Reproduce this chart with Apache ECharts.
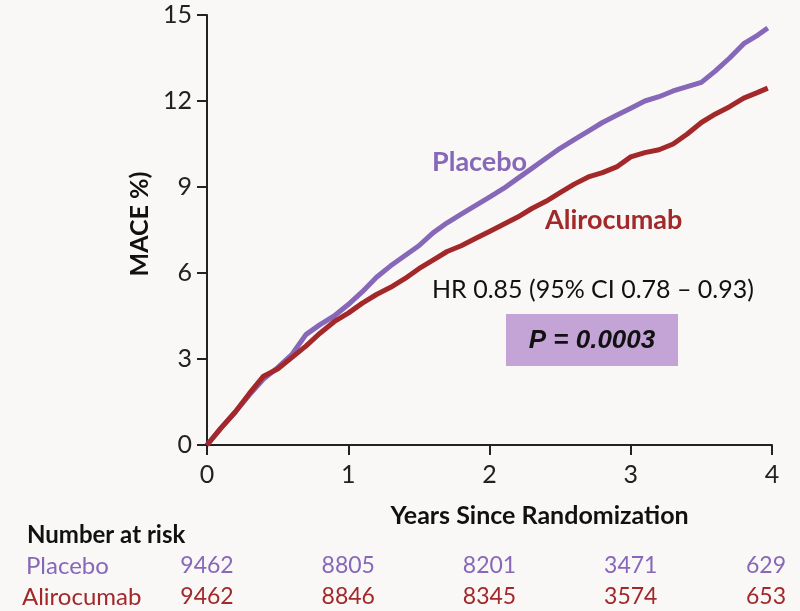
<!DOCTYPE html>
<html>
<head>
<meta charset="utf-8">
<script src="https://cdn.jsdelivr.net/npm/echarts@6/dist/echarts.min.js"></script>
<style>
html,body{margin:0;padding:0;background:#f9f8f7;}
#chart{width:800px;height:611px;}
</style>
</head>
<body>
<div id="chart"></div>
<script>
// Data
const years = [0,0.1,0.2,0.3,0.4,0.5,0.6,0.7,0.8,0.9,1.0,1.1,1.2,1.3,1.4,1.5,1.6,1.7,1.8,1.9,2.0,2.1,2.2,2.3,2.4,2.5,2.6,2.7,2.8,2.9,3.0,3.1,3.2,3.3,3.4,3.5,3.6,3.7,3.8,3.9,3.97];
const placebo = [0,0.6,1.15,1.75,2.3,2.7,3.15,3.85,4.2,4.5,4.9,5.35,5.85,6.25,6.6,6.95,7.4,7.75,8.05,8.35,8.65,8.95,9.3,9.65,10.0,10.35,10.65,10.95,11.25,11.5,11.75,12.0,12.15,12.35,12.5,12.65,13.05,13.5,14.0,14.3,14.55];
const alirocumab = [0,0.6,1.15,1.8,2.4,2.65,3.05,3.45,3.9,4.3,4.6,4.95,5.25,5.5,5.8,6.15,6.45,6.75,6.95,7.2,7.45,7.7,7.95,8.25,8.5,8.8,9.1,9.35,9.5,9.7,10.05,10.2,10.3,10.5,10.85,11.25,11.55,11.8,12.1,12.3,12.45];
const riskYears = [0,1,2,3,4];
const riskPlacebo = ['9462','8805','8201','3471','629'];
const riskAlirocumab = ['9462','8846','8345','3574','653'];
const yTicks = [0,3,6,9,12,15];

const PURPLE = '#8767b8';
const RED = '#a3282a';
const FONT = 'Lato, "Open Sans", sans-serif';

const chart = echarts.init(document.getElementById('chart'));
const pair = (xs, ys) => xs.map((x,i)=>[x, ys[i]]);

chart.setOption({
  backgroundColor: '#f9f8f7',
  animation: false,
  grid: {left: 207, right: 28, top: 15, bottom: 166, containLabel: false},
  xAxis: {
    type: 'value', min: 0, max: 4, interval: 1,
    name: 'Years Since Randomization', nameLocation: 'middle', nameGap: 58,
    nameTextStyle: {fontFamily: FONT, fontSize: 25, fontWeight: 'bold', color: '#111', padding: [0,0,0,100]},
    axisLine: {show: true, lineStyle: {color: '#222', width: 2}},
    axisTick: {show: true, length: 10, lineStyle: {color: '#222', width: 2}},
    axisLabel: {fontFamily: FONT, fontSize: 25, color: '#222', margin: 17},
    splitLine: {show: false}
  },
  yAxis: {
    type: 'value', min: 0, max: 15, interval: 3,
    name: 'MACE %)', nameLocation: 'middle', nameGap: 48, nameRotate: 90,
    nameTextStyle: {fontFamily: FONT, fontSize: 25, fontWeight: 'bold', color: '#111', padding: [0,0,0,12]},
    axisLine: {show: true, lineStyle: {color: '#222', width: 2}},
    axisTick: {show: true, length: 10, lineStyle: {color: '#222', width: 2}},
    axisLabel: {fontFamily: FONT, fontSize: 25, color: '#222', margin: 15,
      formatter: v => yTicks.includes(v) ? String(v) : ''},
    splitLine: {show: false}
  },
  series: [
    {name: 'Placebo', type: 'line', data: pair(years, placebo), showSymbol: false,
     lineStyle: {color: PURPLE, width: 5}, z: 2},
    {name: 'Alirocumab', type: 'line', data: pair(years, alirocumab), showSymbol: false,
     lineStyle: {color: RED, width: 5}, z: 3}
  ]
});

const gx = t => chart.convertToPixel({xAxisIndex: 0}, t);
const mid = {textVerticalAlign: 'middle'};
const graphics = [
  {type: 'text', x: 432, y: 162, style: Object.assign({text: 'Placebo', fill: PURPLE, font: 'bold 27px ' + FONT}, mid)},
  {type: 'text', x: 545, y: 220, style: Object.assign({text: 'Alirocumab', fill: RED, font: 'bold 27px ' + FONT}, mid)},
  {type: 'text', x: 432, y: 290, style: Object.assign({text: 'HR 0.85 (95% CI 0.78 \u2013 0.93)', fill: '#111', font: '25px ' + FONT}, mid)},
  {type: 'rect', shape: {x: 506, y: 314, width: 172, height: 52}, style: {fill: '#c4a3d6'}},
  {type: 'text', x: 592, y: 341, style: {text: 'P = 0.0003', fill: '#111', font: 'italic bold 26px "Liberation Sans", Arial, sans-serif', textAlign: 'center', textVerticalAlign: 'middle'}},
  {type: 'text', x: 27, y: 535, style: Object.assign({text: 'Number at risk', fill: '#111', font: 'bold 24px ' + FONT}, mid)},
  {type: 'text', x: 26, y: 566, style: Object.assign({text: 'Placebo', fill: PURPLE, font: '24px ' + FONT}, mid)},
  {type: 'text', x: 22, y: 597, style: Object.assign({text: 'Alirocumab', fill: RED, font: '24px ' + FONT}, mid)}
];
riskYears.forEach((t, i) => {
  const x = Math.min(gx(t), 766);
  graphics.push({type: 'text', x: x, y: 566, style: {text: riskPlacebo[i], fill: PURPLE, font: '23px ' + FONT, textAlign: 'center', textVerticalAlign: 'middle'}});
  graphics.push({type: 'text', x: x, y: 597, style: {text: riskAlirocumab[i], fill: RED, font: '23px ' + FONT, textAlign: 'center', textVerticalAlign: 'middle'}});
});
chart.setOption({graphic: graphics});
</script>
</body>
</html>
